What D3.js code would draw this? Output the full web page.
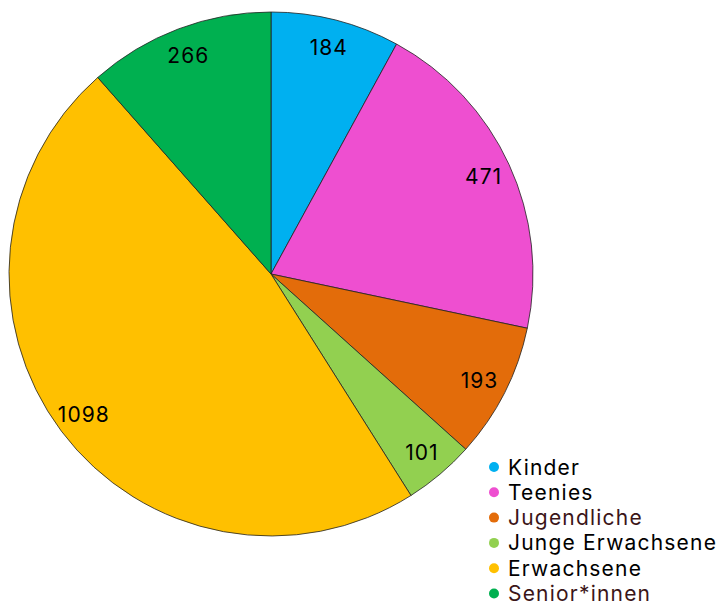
<!DOCTYPE html>
<html><head><meta charset="utf-8">
<script src="https://cdn.jsdelivr.net/npm/d3@7"></script>
<style>body{margin:0;background:#fff}svg{display:block}</style>
</head><body>
<svg id="c" width="721" height="606"></svg>
<script>
const categories = ["Kinder","Teenies","Jugendliche","Junge Erwachsene","Erwachsene","Senior*innen"];
const values = [184,471,193,101,1098,266];
const colors = ["#00b0f0","#ee4fd0","#e36c0a","#92d050","#ffc000","#00b050"];
const legendTextColors = ["#000","#000","#3b1518","#000","#000","#3b1518"];

const svg = d3.select("#c");
const cx = 271, cy = 274, R = 262, rl = 234;
const font = "Inter, Roboto, sans-serif";
const data = categories.map((c,i)=>({cat:c,val:values[i],col:colors[i]}));
const pie = d3.pie().value(d=>d.val).sort(null);
const arcs = pie(data);
const arc = d3.arc().innerRadius(0).outerRadius(R);
const labelArc = d3.arc().innerRadius(rl).outerRadius(rl);
const g = svg.append("g").attr("transform",`translate(${cx},${cy})`);
g.selectAll("path").data(arcs).join("path")
  .attr("d",arc).attr("fill",d=>d.data.col)
  .attr("stroke","#222").attr("stroke-width",0.8);
g.selectAll("text").data(arcs).join("text")
  .attr("transform",d=>`translate(${labelArc.centroid(d)})`)
  .attr("text-anchor","middle").attr("dominant-baseline","central")
  .attr("font-family",font).attr("font-size",21).attr("letter-spacing",1)
  .attr("fill","#000").text(d=>d.data.val);

const lg = svg.append("g");
const items = lg.selectAll("g").data(data).join("g")
  .attr("transform",(d,i)=>`translate(494,${467+i*25.3})`);
items.append("circle").attr("r",5).attr("fill",d=>d.col);
items.append("text").attr("x",14).attr("dominant-baseline","central")
  .attr("font-family",font).attr("font-size",21).attr("letter-spacing",1.2)
  .attr("fill",(d,i)=>legendTextColors[i]).text(d=>d.cat);
</script>
</body></html>
